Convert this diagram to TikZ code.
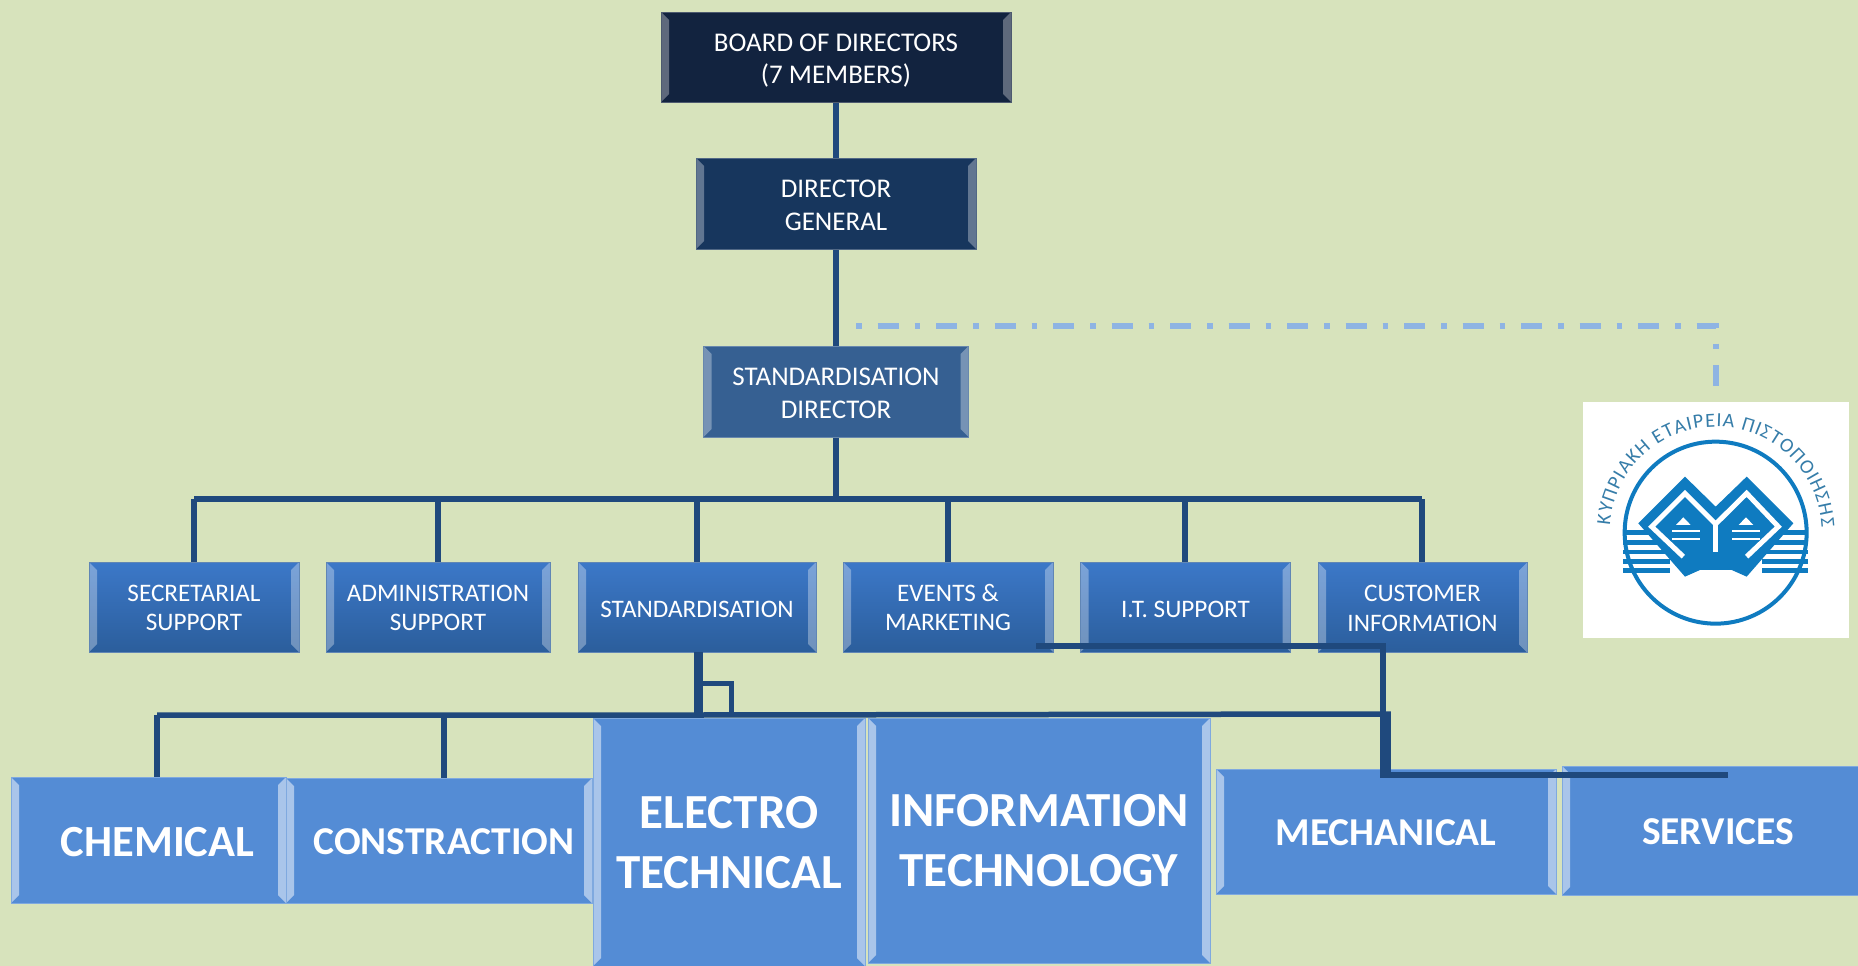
\documentclass[tikz,border=0pt]{standalone}
\usepackage{fontspec}
\setmainfont{Carlito}
\usetikzlibrary{positioning,calc,decorations.text}

\definecolor{pagegreen}{HTML}{D7E3BC}
\definecolor{linkblue}{HTML}{1F497D}
\definecolor{dashblue}{HTML}{8EB4E3}
\definecolor{logoblue}{HTML}{0F7BC0}
\definecolor{boardblue}{HTML}{12233F}
\definecolor{generalblue}{HTML}{17365D}
\definecolor{stddirblue}{HTML}{366092}
\definecolor{depttop}{HTML}{3C78C8}
\definecolor{deptlow}{HTML}{2B5E9C}
\definecolor{sectorblue}{HTML}{548CD5}

\newcommand{\liftline}[1]{\rule{0pt}{#1em}}

\tikzset{
    bevel tone/.store in=\bevelop, bevel tone=0.32,
    bevelbox/.style={rectangle, align=center, text=white, inner sep=0pt, draw=#1!75!white, line width=0.8pt,
        path picture={
            \fill[white, opacity=\bevelop] (path picture bounding box.north west) -- ++(8pt,-8pt)
                -- ($(path picture bounding box.south west)+(8pt,8pt)$) -- (path picture bounding box.south west) -- cycle;
            \fill[white, opacity=\bevelop] (path picture bounding box.north east) -- ++(-8pt,-8pt)
                -- ($(path picture bounding box.south east)+(-8pt,8pt)$) -- (path picture bounding box.south east) -- cycle;
        }},
    topbox/.style={bevelbox=#1, fill=#1, font=\fontsize{27}{32.5}\selectfont},
    deptbox/.style={bevelbox=deptlow, top color=depttop, bottom color=deptlow, minimum height=90pt,
        font=\fontsize{25.2}{29.5}\selectfont},
    sectorbox/.style={bevelbox=sectorblue, fill=sectorblue, bevel tone=0.5, font=\fontsize{#1}{60}\bfseries\selectfont},
    link/.style={draw=linkblue, line width=5.5pt},
}

\begin{document}
\begin{tikzpicture}[x=1pt,y=-1pt]
    \fill[pagegreen] (0,0) rectangle (1858,966);
    \useasboundingbox (0,0) rectangle (1858,966);

    \coordinate (busleft) at (194,499);
    \coordinate (busright) at (1422,499);
    \coordinate (lowleft) at (157,715);
    \coordinate (lowmid) at (444,715);
    \coordinate (lowjoin) at (698.5,715);
    \coordinate (lowright) at (1388,714);
    \coordinate (loopa) at (703,683);
    \coordinate (loopb) at (731,714);
    \coordinate (sidea) at (1036,646);
    \coordinate (sideb) at (1383,775);
    \coordinate (sidec) at (1728,775);
    \coordinate (dashstart) at (856,326);
    \coordinate (dashend) at (1716,388);

    % links go under the boxes of the upper part
    \draw[link] (836,102) -- (836,158);
    \draw[link] (836,249) -- (836,346);
    \draw[link] (836,437) -- (836,499);
    \draw[link] (busleft) -- (busright);
    \foreach \xdrop in {194,438,697,948,1185,1422}
        \draw[link] (\xdrop,499) -- (\xdrop,562);

    \node (board) [topbox=boardblue, minimum width=350pt, minimum height=90pt] at (836,57) {\liftline{0.9}BOARD OF DIRECTORS\\(7 MEMBERS)};
    \node (general) [topbox=generalblue, minimum width=280pt, minimum height=91pt] at (836,203.5) {\liftline{0.8}DIRECTOR\\GENERAL};
    \node (stddir) [topbox=stddirblue, minimum width=265pt, minimum height=91pt] at (836,391.5) {\liftline{0.8}STANDARDISATION\\DIRECTOR};

    \node (secretarial) [deptbox, minimum width=210pt] at (194,607) {\liftline{0.72}SECRETARIAL\\SUPPORT};
    \node (administration) [deptbox, minimum width=224pt] at (438,607) {\liftline{0.72}ADMINISTRATION\\SUPPORT};
    \node (standardisation) [deptbox, minimum width=238pt] at (697,607) {\liftline{0.85}STANDARDISATION};
    \node (events) [deptbox, minimum width=210pt] at (948,607) {\liftline{0.72}EVENTS \&\\MARKETING};
    \node (itsupport) [deptbox, minimum width=210pt] at (1185.5,607) {\liftline{0.85}I.T. SUPPORT};
    \node (customer) [deptbox, minimum width=209pt] at (1422.5,607.5) {\liftline{0.72}CUSTOMER\\INFORMATION};

    \node (chemical) [sectorbox=44.5, minimum width=275pt, minimum height=126pt] at (148.5,840) {\liftline{0.74}\hspace*{18pt}CHEMICAL};
    \node (constraction) [sectorbox=39.5, minimum width=306pt, minimum height=125pt] at (439,840.5) {\liftline{0.74}\hspace*{10pt}CONSTRACTION};
    \node (electro) [sectorbox=49, minimum width=272pt, minimum height=248pt] at (729,842) {\liftline{0.7}ELECTRO\\TECHNICAL};
    \node (infotech) [sectorbox=49, minimum width=342pt, minimum height=245pt] at (1039,840.5) {INFORMATION\\TECHNOLOGY};
    \node (mechanical) [sectorbox=39.5, minimum width=340pt, minimum height=125pt] at (1386,831.5) {\liftline{0.74}MECHANICAL};
    \node (services) [sectorbox=39.5, minimum width=312pt, minimum height=129pt] at (1718,830.5) {\liftline{0.74}SERVICES};

    % lower links lie over the boxes
    \draw[link, line width=9pt] (lowjoin |- standardisation.south) -- (lowjoin);
    \draw[link, line width=5pt] (loopa) -| (loopb);
    \draw[link] (lowleft) -- (lowjoin) -- (lowright) -- (1388,772);
    \draw[link] (lowleft) -- (chemical.north -| lowleft);
    \draw[link] (lowmid) -- (constraction.north -| lowmid);
    \draw[link] (sidea) -| (sideb) -- (sidec);

    \draw[dashblue, line width=5.5pt, dash pattern=on 5.5pt off 16pt on 21pt off 16pt] (dashstart) -| (dashend);

    \node (logo) [fill=white, minimum width=266pt, minimum height=236pt, inner sep=0pt] at (1716,520) {};
    \begin{scope}[shift={(1560,380)},x=0.3333pt,y=-0.3333pt]
        \draw[logoblue, line width=4pt] (467,458) circle (91pt);
        \fill[logoblue] (375,290) -- (467,380) -- (560,290) -- (700,430) -- (560,590) -- (515,570)
            -- (420,570) -- (375,590) -- (235,430) -- cycle;
        \foreach \ybar in {458,487,516,545,572} {
            \fill[logoblue] (190,\ybar-7) rectangle (330,\ybar+7);
            \fill[logoblue] (605,\ybar-7) rectangle (745,\ybar+7);
        }
        \draw[white, line width=5pt] (370,530) -- (275,440) -- (375,340) -- (467,432) -- (560,340) -- (655,440) -- (560,530);
        \draw[white, line width=5pt] (467,432) -- (467,515);
        \fill[white] (370,412) -- (392,435) -- (348,435) -- cycle;
        \fill[white] (558,412) -- (580,435) -- (536,435) -- cycle;
        \foreach \ybar in {452,476} {
            \fill[white] (335,\ybar-3) rectangle (420,\ybar+3);
            \fill[white] (515,\ybar-3) rectangle (600,\ybar+3);
        }
        \path[postaction={decorate}, decoration={text along path, text align={fit to path},
            text={|\fontsize{20}{20}\selectfont\color{logoblue!65!gray}|ΚΥΠΡΙΑΚΗ ΕΤΑΙΡΕΙΑ ΠΙΣΤΟΠΟΙΗΣΗΣ}}]
            (467,458) ++(176:106pt) arc[start angle=176, end angle=3, radius=106pt];
    \end{scope}
\end{tikzpicture}
\end{document}
